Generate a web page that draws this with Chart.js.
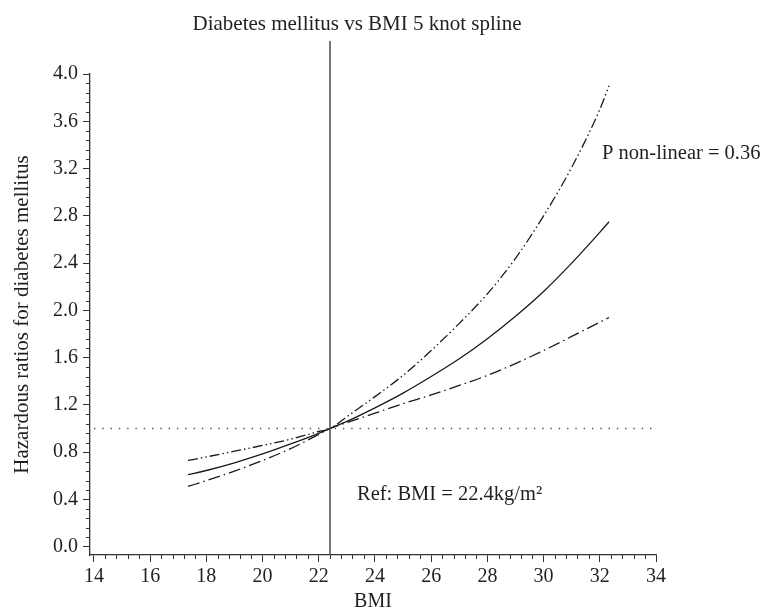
<!DOCTYPE html>
<html>
<head>
<meta charset="utf-8">
<script src="https://cdn.jsdelivr.net/npm/chart.js@4.4.0/dist/chart.umd.min.js"></script>
<style>
  html, body { margin: 0; padding: 0; background: #fff; }
</style>
</head>
<body>
<canvas id="splineChart" width="767" height="614"></canvas>
<script>
// Spline estimate + 95% limits
const bmi = [17.35, 18, 19, 20, 21, 22, 22.4, 23, 24, 25, 26, 27, 28, 29, 30, 31, 32, 32.33];
const hrEstimate = [0.61, 0.645, 0.71, 0.785, 0.87, 0.96, 1.0, 1.06, 1.175, 1.30, 1.44, 1.59, 1.76, 1.95, 2.16, 2.40, 2.66, 2.75];
const hrUpper = [0.73, 0.76, 0.808, 0.857, 0.91, 0.975, 1.0, 1.10, 1.27, 1.45, 1.66, 1.89, 2.14, 2.44, 2.80, 3.21, 3.70, 3.90];
const hrLower = [0.51, 0.56, 0.64, 0.73, 0.83, 0.95, 1.0, 1.05, 1.13, 1.21, 1.285, 1.365, 1.45, 1.55, 1.66, 1.78, 1.90, 1.94];

const xTicks = [14, 16, 18, 20, 22, 24, 26, 28, 30, 32, 34];
const yTicks = [0.0, 0.4, 0.8, 1.2, 1.6, 2.0, 2.4, 2.8, 3.2, 3.6, 4.0];

const refBmi = 22.4;
const refHr = 1.0;
const xMin = 13.86, xMax = 34;
const yMin = -0.07, yMax = 4.0;
const refLineTop = 4.28;

const FONT = "'Liberation Serif', 'Times New Roman', serif";
const INK = '#231f20';

// extra marks: minor ticks and text notes
const decorPlugin = {
    id: 'decor',
    afterDraw(chart) {
        const { ctx, scales: { x, y } } = chart;
        ctx.save();
        ctx.strokeStyle = '#333';
        ctx.lineWidth = 1;
        for (let i = 0; i < xTicks.length - 1; i++) {
            for (let k = 1; k < 5; k++) {
                const v = xTicks[i] + (xTicks[i + 1] - xTicks[i]) * k / 5;
                const px = Math.round(x.getPixelForValue(v)) + 0.5;
                ctx.beginPath();
                ctx.moveTo(px, y.bottom);
                ctx.lineTo(px, y.bottom + 4);
                ctx.stroke();
            }
        }
        for (let i = 0; i < yTicks.length - 1; i++) {
            for (let k = 1; k < 5; k++) {
                const v = yTicks[i] + (yTicks[i + 1] - yTicks[i]) * k / 5;
                const py = Math.round(y.getPixelForValue(v)) + 0.5;
                ctx.beginPath();
                ctx.moveTo(x.left, py);
                ctx.lineTo(x.left - 4, py);
                ctx.stroke();
            }
        }

        ctx.fillStyle = INK;
        ctx.textBaseline = 'middle';
        ctx.textAlign = 'center';
        ctx.font = '21px ' + FONT;
        ctx.fillText('Diabetes mellitus vs BMI 5 knot spline', x.getPixelForValue(23.36), 24);

        ctx.textAlign = 'left';
        ctx.font = '20.5px ' + FONT;
        ctx.fillText('P non-linear = 0.36', x.getPixelForValue(32.08), y.getPixelForValue(3.33));
        ctx.fillText('Ref: BMI = 22.4kg/m\u00B2', x.getPixelForValue(23.36), y.getPixelForValue(0.44));
        ctx.restore();
    }
};

const pts = (xs, ys) => xs.map((v, i) => ({ x: v, y: ys[i] }));

new Chart(document.getElementById('splineChart'), {
    type: 'line',
    data: {
        datasets: [
            {
                label: 'ref hr',
                data: [{ x: 14, y: refHr }, { x: xMax, y: refHr }],
                borderColor: '#555',
                borderWidth: 1.4,
                borderDash: [1.4, 6.9],
                pointRadius: 0
            },
            {
                label: 'ref bmi',
                data: [{ x: refBmi, y: yMin }, { x: refBmi, y: refLineTop }],
                borderColor: '#555',
                borderWidth: 1.6,
                pointRadius: 0,
                clip: false
            },
            {
                label: 'Lower',
                data: pts(bmi, hrLower),
                borderColor: '#1a1a1a',
                borderWidth: 1.3,
                borderDash: [12, 4, 1.5, 4],
                pointRadius: 0,
                cubicInterpolationMode: 'monotone'
            },
            {
                label: 'Upper',
                data: pts(bmi, hrUpper),
                borderColor: '#1a1a1a',
                borderWidth: 1.3,
                borderDash: [10, 3, 1.5, 3, 1.5, 3],
                pointRadius: 0,
                cubicInterpolationMode: 'monotone'
            },
            {
                label: 'HR',
                data: pts(bmi, hrEstimate),
                borderColor: '#1a1a1a',
                borderWidth: 1.3,
                pointRadius: 0,
                cubicInterpolationMode: 'monotone'
            }
        ]
    },
    options: {
        responsive: false,
        animation: false,
        layout: { padding: { top: 74, right: 111, left: 0, bottom: 0 } },
        plugins: {
            legend: { display: false },
            tooltip: { enabled: false }
        },
        scales: {
            x: {
                type: 'linear',
                min: xMin,
                max: xMax,
                afterBuildTicks: s => { s.ticks = xTicks.map(v => ({ value: v })); },
                afterFit: s => { s.height = 59; },
                ticks: {
                    font: { family: FONT, size: 20 },
                    color: INK,
                    padding: 3,
                    maxRotation: 0,
                    autoSkip: false,
                    callback: v => String(v)
                },
                grid: { drawOnChartArea: false, color: '#333', tickLength: 7, tickWidth: 1 },
                border: { color: '#333', width: 1.3 },
                title: {
                    display: true,
                    text: 'BMI',
                    color: INK,
                    font: { family: FONT, size: 20 },
                    padding: { top: 0, bottom: 0 }
                }
            },
            y: {
                type: 'linear',
                min: yMin,
                max: yMax,
                afterBuildTicks: s => { s.ticks = yTicks.map(v => ({ value: v })); },
                afterFit: s => { s.width = 90; },
                ticks: {
                    font: { family: FONT, size: 20 },
                    color: INK,
                    padding: 5,
                    autoSkip: false,
                    callback: v => v.toFixed(1)
                },
                grid: { drawOnChartArea: false, color: '#333', tickLength: 7, tickWidth: 1 },
                border: { color: '#333', width: 1.3 },
                title: {
                    display: true,
                    text: 'Hazardous ratios for diabetes mellitus',
                    color: INK,
                    font: { family: FONT, size: 21 },
                    padding: { top: 10, bottom: 0 }
                }
            }
        }
    },
    plugins: [decorPlugin]
});
</script>
</body>
</html>
